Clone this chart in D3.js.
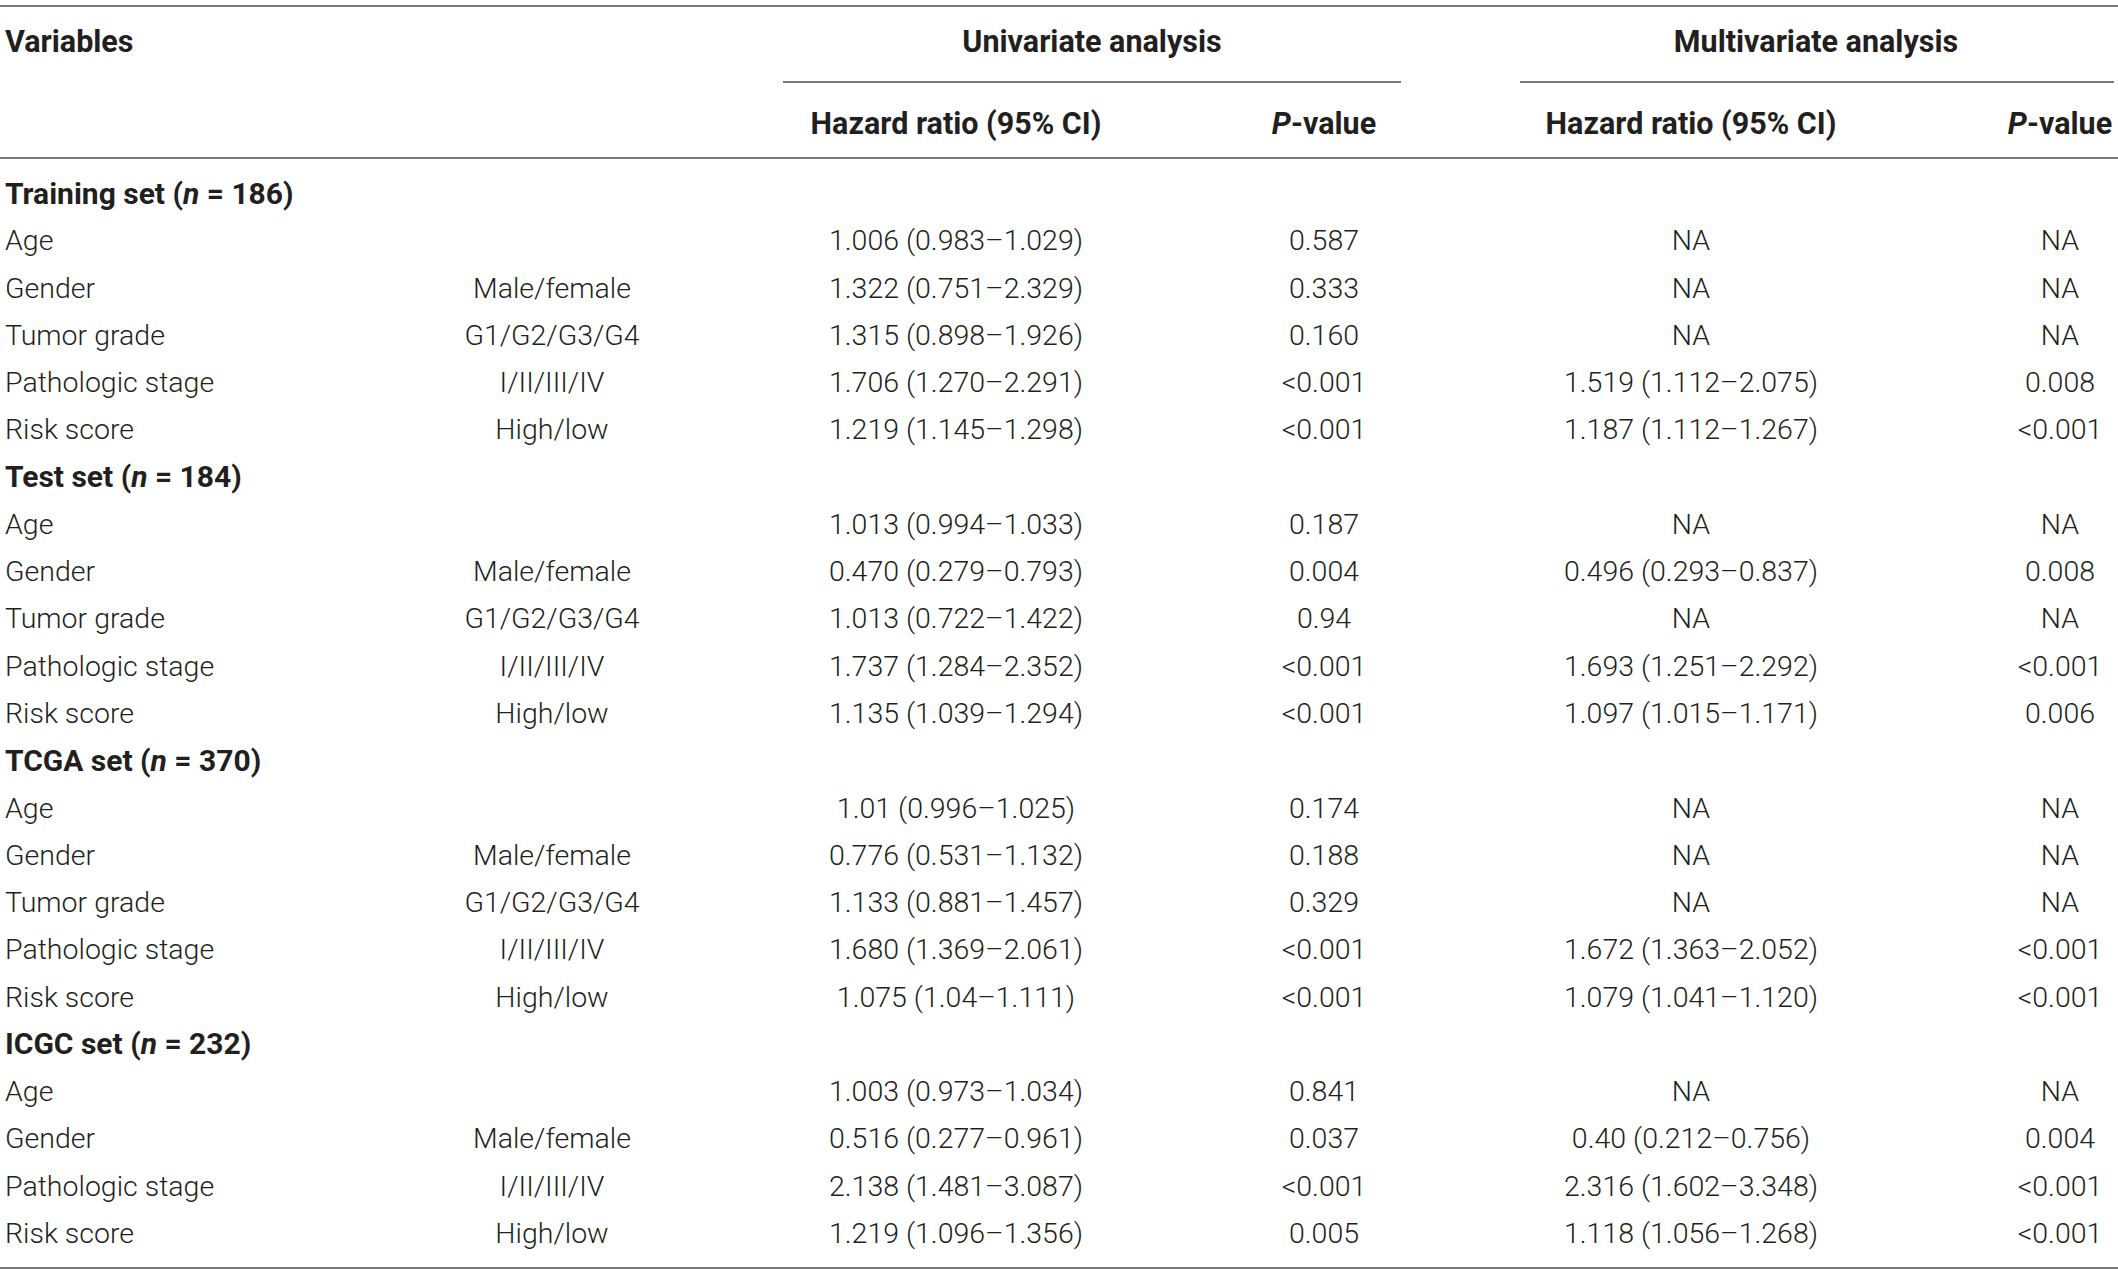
<!DOCTYPE html>
<html>
<head>
<meta charset="utf-8">
<script src="https://cdn.jsdelivr.net/npm/d3@7"></script>
<style>
  body { margin: 0; background: #fff; }
  svg text { font-family: Roboto, "Liberation Sans", sans-serif; fill: #231f20; }
</style>
</head>
<body>
<script>
// table contents
const groupNames = ['Training set', 'Test set', 'TCGA set', 'ICGC set']
const groupN = [186, 184, 370, 232]

const rowGroup = [0, 0, 0, 0, 0, 1, 1, 1, 1, 1, 2, 2, 2, 2, 2, 3, 3, 3, 3]
const rowVariable = [
  'Age', 'Gender', 'Tumor grade', 'Pathologic stage', 'Risk score',
  'Age', 'Gender', 'Tumor grade', 'Pathologic stage', 'Risk score',
  'Age', 'Gender', 'Tumor grade', 'Pathologic stage', 'Risk score',
  'Age', 'Gender', 'Pathologic stage', 'Risk score'
]
const rowLevel = [
  '', 'Male/female', 'G1/G2/G3/G4', 'I/II/III/IV', 'High/low',
  '', 'Male/female', 'G1/G2/G3/G4', 'I/II/III/IV', 'High/low',
  '', 'Male/female', 'G1/G2/G3/G4', 'I/II/III/IV', 'High/low',
  '', 'Male/female', 'I/II/III/IV', 'High/low'
]
const uniHR = [
  '1.006 (0.983–1.029)', '1.322 (0.751–2.329)', '1.315 (0.898–1.926)', '1.706 (1.270–2.291)', '1.219 (1.145–1.298)',
  '1.013 (0.994–1.033)', '0.470 (0.279–0.793)', '1.013 (0.722–1.422)', '1.737 (1.284–2.352)', '1.135 (1.039–1.294)',
  '1.01 (0.996–1.025)', '0.776 (0.531–1.132)', '1.133 (0.881–1.457)', '1.680 (1.369–2.061)', '1.075 (1.04–1.111)',
  '1.003 (0.973–1.034)', '0.516 (0.277–0.961)', '2.138 (1.481–3.087)', '1.219 (1.096–1.356)'
]
const uniP = [
  '0.587', '0.333', '0.160', '<0.001', '<0.001',
  '0.187', '0.004', '0.94', '<0.001', '<0.001',
  '0.174', '0.188', '0.329', '<0.001', '<0.001',
  '0.841', '0.037', '<0.001', '0.005'
]
const multiHR = [
  'NA', 'NA', 'NA', '1.519 (1.112–2.075)', '1.187 (1.112–1.267)',
  'NA', '0.496 (0.293–0.837)', 'NA', '1.693 (1.251–2.292)', '1.097 (1.015–1.171)',
  'NA', 'NA', 'NA', '1.672 (1.363–2.052)', '1.079 (1.041–1.120)',
  'NA', '0.40 (0.212–0.756)', '2.316 (1.602–3.348)', '1.118 (1.056–1.268)'
]
const multiP = [
  'NA', 'NA', 'NA', '0.008', '<0.001',
  'NA', '0.008', 'NA', '<0.001', '0.006',
  'NA', 'NA', 'NA', '<0.001', '<0.001',
  'NA', '0.004', '<0.001', '<0.001'
]

const width = 2118
const height = 1277
const fontSize = 28.5
const headSize = 30.5
const groupSize = 30

const svg = d3.select('body')
  .append('svg')
  .attr('width', width)
  .attr('height', height)

// build the display rows: a heading row before each group
const rows = []
rowGroup.forEach((g, i) => {
  if (i === 0 || rowGroup[i - 1] !== g) rows.push({type: 'group', g})
  rows.push({type: 'data', i})
})

const yScale = d3.scalePoint()
  .domain(d3.range(rows.length))
  .range([193, 1233])

// column centres
const col = {level: 552, uniHR: 956, uniP: 1324, multiHR: 1691, multiP: 2060}

const lineColor = '#7a7a7a'
const rules = [
  {x1: 0, x2: width, y: 6},
  {x1: 783, x2: 1401, y: 82},
  {x1: 1520, x2: 2114, y: 82},
  {x1: 0, x2: width, y: 158},
  {x1: 0, x2: width, y: 1268}
]
svg.selectAll('line.rule')
  .data(rules)
  .enter()
  .append('line')
  .attr('class', 'rule')
  .attr('x1', d => d.x1)
  .attr('x2', d => d.x2)
  .attr('y1', d => d.y)
  .attr('y2', d => d.y)
  .attr('stroke', lineColor)
  .attr('stroke-width', 2)

// header
const head = svg.append('g')
  .attr('font-size', headSize)
  .attr('font-weight', 700)

head.append('text').attr('x', 5).attr('y', 41).attr('dy', '0.35em').text('Variables')
head.append('text').attr('x', 1092).attr('y', 41).attr('dy', '0.35em').attr('text-anchor', 'middle').text('Univariate analysis')
head.append('text').attr('x', 1816).attr('y', 41).attr('dy', '0.35em').attr('text-anchor', 'middle').text('Multivariate analysis')

const subHeads = [col.uniHR, col.uniP, col.multiHR, col.multiP]
subHeads.forEach((x, i) => {
  const t = head.append('text')
    .attr('x', x)
    .attr('y', 123)
    .attr('dy', '0.35em')
    .attr('text-anchor', 'middle')
  if (i % 2 === 0) {
    t.text('Hazard ratio (95% CI)')
  } else {
    t.append('tspan').attr('font-style', 'italic').text('P')
    t.append('tspan').text('-value')
  }
})

// body rows
const body = svg.append('g').attr('font-size', fontSize)

rows.forEach((r, k) => {
  const y = yScale(k)
  if (r.type === 'group') {
    const t = body.append('text')
      .attr('x', 5)
      .attr('y', y)
      .attr('dy', '0.35em')
      .attr('font-size', groupSize)
      .attr('font-weight', 700)
    t.append('tspan').text(groupNames[r.g] + ' (')
    t.append('tspan').attr('font-style', 'italic').text('n')
    t.append('tspan').text(' = ' + groupN[r.g] + ')')
    return
  }
  const i = r.i
  const cells = [
    {x: 5, anchor: 'start', v: rowVariable[i]},
    {x: col.level, anchor: 'middle', v: rowLevel[i]},
    {x: col.uniHR, anchor: 'middle', v: uniHR[i]},
    {x: col.uniP, anchor: 'middle', v: uniP[i]},
    {x: col.multiHR, anchor: 'middle', v: multiHR[i]},
    {x: col.multiP, anchor: 'middle', v: multiP[i]}
  ]
  body.selectAll(null)
    .data(cells.filter(c => c.v !== ''))
    .enter()
    .append('text')
    .attr('x', d => d.x)
    .attr('y', y)
    .attr('dy', '0.35em')
    .attr('text-anchor', d => d.anchor)
    .attr('font-weight', 300)
    .text(d => d.v)
})
</script>
</body>
</html>
